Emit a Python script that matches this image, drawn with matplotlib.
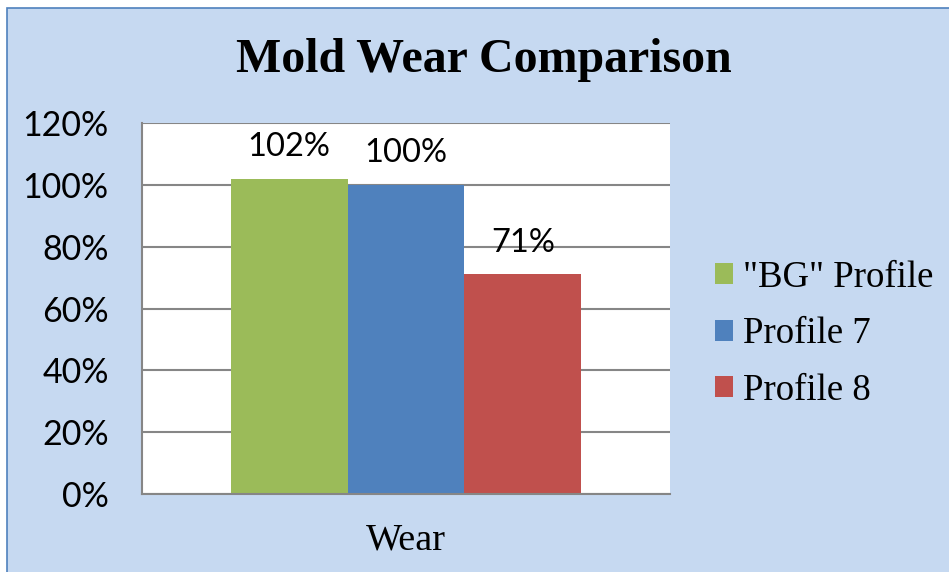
import matplotlib.pyplot as plt
from matplotlib.patches import Rectangle
from matplotlib.ticker import PercentFormatter

CATEGORY = 'Wear'
SERIES   = ['"BG" Profile', 'Profile 7', 'Profile 8']
VALUES   = [102, 100, 71]
COLORS   = ['#9BBB59', '#4F81BD', '#C0504D']
YTICKS   = [0, 20, 40, 60, 80, 100, 120]

BG_BLUE  = '#C6D9F1'
GRID     = '#868686'
SERIF    = 'Liberation Serif'
SANS     = 'Lato'

fig = plt.figure(figsize=(9.49, 5.72), dpi=100)
fig.patch.set_facecolor('white')

# light blue chart area with a thin blue border (runs off the right/bottom edge)
fig.patches.append(Rectangle((7 / 949, -0.05), 1.1, 1.05 - 8 / 572, transform=fig.transFigure,
                             facecolor=BG_BLUE, edgecolor='#4F81BD', linewidth=1.2, zorder=-5))

ax = fig.add_axes([142 / 949, 1 - 494 / 572, 528 / 949, 371 / 572])
ax.set_facecolor('white')

xs = [-1, 0, 1]
for x, v, c, name in zip(xs, VALUES, COLORS, SERIES):
    ax.bar(x, v, width=1.0, color=c, label=name, zorder=3)
    ax.annotate(f'{v}%', (x, v), xytext=(0, 12), textcoords='offset points',
                ha='center', va='bottom', fontsize=23.5, family=SANS)

ax.set_xlim(-2.26, 2.26)
ax.set_ylim(0, 120)
ax.set_yticks(YTICKS)
ax.yaxis.set_major_formatter(PercentFormatter(decimals=0))
ax.set_xticks([0])
ax.set_xticklabels([CATEGORY], fontsize=27.5, family=SERIF)
ax.tick_params(axis='y', length=0, pad=24, labelsize=24.5)
ax.tick_params(axis='x', length=0, pad=21)
for lab in ax.get_yticklabels():
    lab.set_family(SANS)

ax.grid(axis='y', color=GRID, linewidth=1.5, zorder=1)
ax.set_axisbelow(True)
for s in ['top', 'right']:
    ax.spines[s].set_visible(False)
for s in ['left', 'bottom']:
    ax.spines[s].set_color(GRID)
    ax.spines[s].set_linewidth(1.5)
    ax.spines[s].set_zorder(4)

fig.text(484 / 949, 1 - 60 / 572, 'Mold Wear Comparison', ha='center', va='center',
         fontsize=34.5, fontweight='bold', family=SERIF)

ax.legend(loc='center left', bbox_to_anchor=(715 / 949, 1 - 334 / 572),
          bbox_transform=fig.transFigure, frameon=False,
          prop={'family': SERIF, 'size': 26.5}, handlelength=0.5, handleheight=0.5,
          handletextpad=0.25, labelspacing=0.6, borderaxespad=0, borderpad=0)

fig.savefig('out.png', dpi=100)
